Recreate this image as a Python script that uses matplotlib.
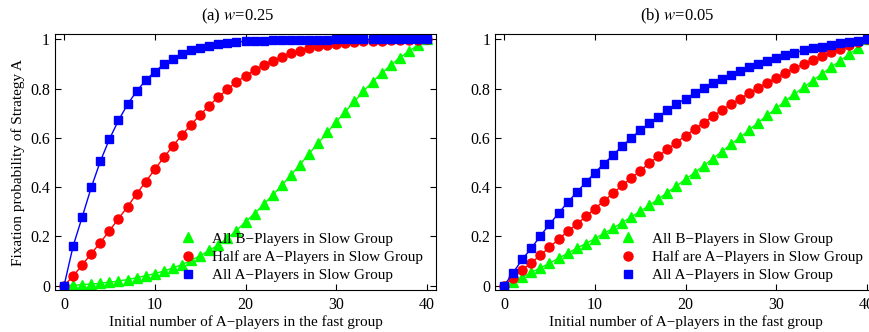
import matplotlib
matplotlib.use("Agg")
import matplotlib.pyplot as plt

plt.rcParams["font.family"] = ["Liberation Serif", "DejaVu Serif"]
plt.rcParams["mathtext.fontset"] = "stix"

# --- dane ---
n = list(range(41))

# (a) w = 0.25
a_zielony = [0.0, 0.002, 0.004, 0.007, 0.010, 0.014, 0.019, 0.025, 0.032, 0.040,
             0.049, 0.060, 0.072, 0.086, 0.103, 0.122, 0.143, 0.165, 0.192, 0.224,
             0.259, 0.293, 0.330, 0.368, 0.407, 0.449, 0.491, 0.536, 0.578, 0.622,
             0.666, 0.706, 0.748, 0.789, 0.828, 0.862, 0.895, 0.925, 0.952, 0.976, 1.0]
a_czerwony = [0.0, 0.039, 0.084, 0.130, 0.175, 0.223, 0.272, 0.321, 0.373, 0.422,
              0.472, 0.521, 0.567, 0.612, 0.654, 0.693, 0.731, 0.766, 0.797, 0.827,
              0.851, 0.876, 0.896, 0.913, 0.930, 0.943, 0.954, 0.963, 0.971, 0.977,
              0.982, 0.986, 0.989, 0.992, 0.993, 0.995, 0.996, 0.997, 0.998, 0.999, 1.0]
a_niebieski = [0.0, 0.161, 0.279, 0.399, 0.505, 0.595, 0.671, 0.736, 0.790, 0.833,
               0.869, 0.898, 0.921, 0.940, 0.955, 0.966, 0.974, 0.981, 0.986, 0.989,
               0.992, 0.994, 0.995, 0.996, 0.997, 0.998, 0.998, 0.999, 0.999, 0.999,
               1.0, 1.0, 1.0, 1.0, 1.0, 1.0, 1.0, 1.0, 1.0, 1.0, 1.0]

# (b) w = 0.05
b_zielony = [0.0, 0.016, 0.034, 0.054, 0.072, 0.091, 0.111, 0.131, 0.152, 0.171,
             0.191, 0.212, 0.233, 0.256, 0.279, 0.302, 0.326, 0.352, 0.378, 0.405,
             0.432, 0.459, 0.487, 0.516, 0.544, 0.574, 0.602, 0.632, 0.662, 0.691,
             0.720, 0.750, 0.778, 0.805, 0.832, 0.859, 0.886, 0.912, 0.939, 0.966, 1.0]
b_czerwony = [0.0, 0.032, 0.064, 0.093, 0.124, 0.156, 0.188, 0.221, 0.249, 0.281,
              0.313, 0.344, 0.375, 0.407, 0.436, 0.467, 0.497, 0.526, 0.553, 0.581,
              0.609, 0.636, 0.662, 0.687, 0.713, 0.736, 0.759, 0.781, 0.802, 0.824,
              0.844, 0.865, 0.882, 0.900, 0.916, 0.932, 0.947, 0.962, 0.976, 0.989, 1.0]
b_niebieski = [0.0, 0.053, 0.107, 0.152, 0.202, 0.249, 0.294, 0.338, 0.379, 0.419,
               0.459, 0.495, 0.530, 0.566, 0.599, 0.631, 0.659, 0.686, 0.712, 0.737,
               0.759, 0.781, 0.802, 0.821, 0.840, 0.857, 0.873, 0.888, 0.901, 0.913,
               0.926, 0.936, 0.946, 0.955, 0.963, 0.970, 0.977, 0.984, 0.989, 0.995, 1.0]

etykiety = ["All B\u2212Players in Slow Group",
            "Half are A\u2212Players in Slow Group",
            "All A\u2212Players in Slow Group"]
tytuly = ["(a) $w$=0.25", "(b) $w$=0.05"]
xticki = [0, 10, 20, 30, 40]
yticki = [0, 0.2, 0.4, 0.6, 0.8, 1]
yticki_opis = ["0", "0.2", "0.4", "0.6", "0.8", "1"]

kolory = [(0, 1, 0), (1, 0, 0), (0, 0, 1)]
markery = ["^", "o", "s"]
rozmiary = [7, 6.5, 5.5]

fig = plt.figure(figsize=(8.7, 3.32), dpi=100)
ax1 = fig.add_axes([0.0632, 0.1265, 0.438, 0.771])
ax2 = fig.add_axes([0.569, 0.1265, 0.438, 0.771])

dane = [[a_zielony, a_czerwony, a_niebieski], [b_zielony, b_czerwony, b_niebieski]]

for k, ax in enumerate([ax1, ax2]):
    for s in range(3):
        ax.plot(n, dane[k][s], "-", color=kolory[s], linewidth=1.0)
        ax.plot(n, dane[k][s], markery[s], linestyle="none", color=kolory[s],
                markersize=rozmiary[s], markeredgecolor=kolory[s], label=etykiety[s])
    ax.set_xlim(-1, 41)
    ax.set_ylim(-0.0175, 1.0215)
    ax.set_xticks(xticki)
    ax.set_yticks(yticki)
    ax.set_yticklabels(yticki_opis)
    ax.tick_params(direction="in", top=True, right=True, labelsize=11.5, length=4)
    ax.tick_params(axis="x", pad=5)
    ax.set_xlabel("Initial number of A\u2212players in the fast group", fontsize=11, labelpad=1.5)
    ax.set_title(tytuly[k], fontsize=12, pad=10, x=0.479)
    ax.legend(loc="lower right", frameon=False, fontsize=11, handletextpad=0.85,
              labelspacing=0.3, borderaxespad=0.3, bbox_to_anchor=(0.995, -0.012),
              handlelength=1.5)

ax1.set_ylabel("Fixation probability of Strategy A", fontsize=11, labelpad=4)

plt.savefig("out.png", dpi=100)
